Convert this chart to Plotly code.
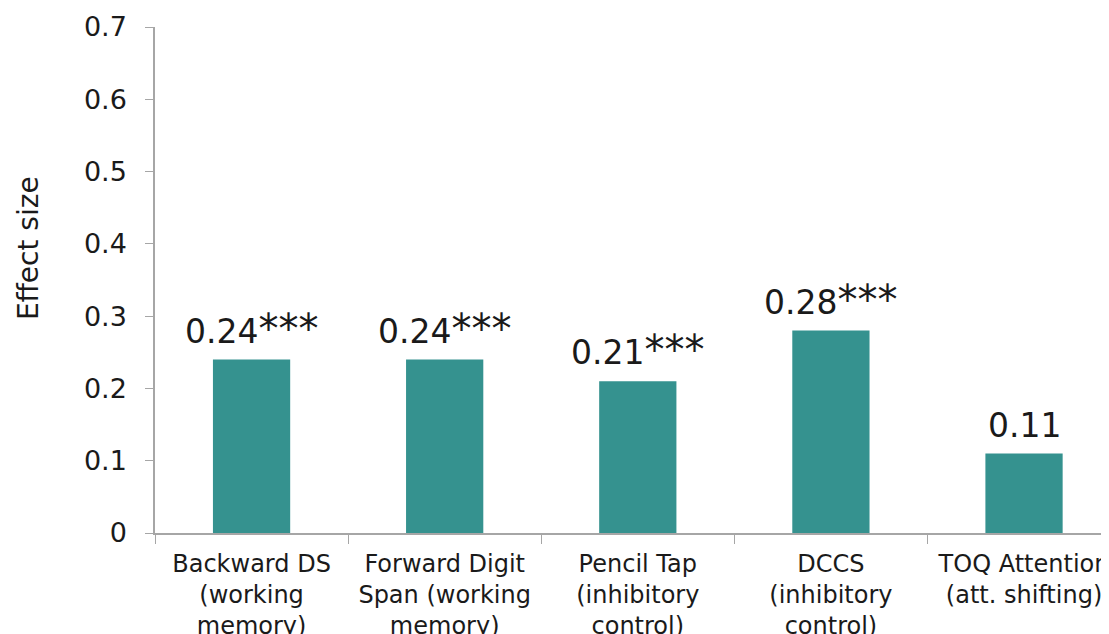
import plotly.graph_objects as go

categories = [
    "Backward DS<br>(working<br>memory)",
    "Forward Digit<br>Span (working<br>memory)",
    "Pencil Tap<br>(inhibitory<br>control)",
    "DCCS<br>(inhibitory<br>control)",
    "TOQ Attention<br>(att. shifting)",
]
effect_sizes = [0.24, 0.24, 0.21, 0.28, 0.11]
significance = ["***", "***", "***", "***", ""]
y_ticks = [0, 0.1, 0.2, 0.3, 0.4, 0.5, 0.6, 0.7]
y_tick_labels = ["0", "0.1", "0.2", "0.3", "0.4", "0.5", "0.6", "0.7"]

FONT = "DejaVu Sans"
BAR_COLOR = "#35928F"
AXIS_COLOR = "#A6A6A6"

fig = go.Figure()
fig.add_trace(go.Bar(
    x=categories,
    y=effect_sizes,
    width=0.40,
    marker=dict(color=BAR_COLOR, line=dict(width=0)),
    hoverinfo="skip",
))

for cat, val, sig in zip(categories, effect_sizes, significance):
    txt = f"{val:.2f}"
    if sig:
        txt += f"<span style='font-size:40px'>{sig}</span>"
    fig.add_annotation(
        x=cat, y=val, xref="x", yref="y",
        text=txt,
        showarrow=False, yanchor="bottom", yshift=6,
        font=dict(family=FONT, size=33, color="#1a1a1a"),
    )

fig.add_annotation(
    xref="paper", yref="paper",
    x=(28 - 155) / 954, y=0.563,
    text="Effect size", textangle=-90, showarrow=False,
    xanchor="center", yanchor="middle",
    font=dict(family=FONT, size=28, color="#1a1a1a"),
)

fig.update_layout(
    width=1101, height=626,
    margin=dict(l=147, r=0, t=19, b=101, autoexpand=False),
    paper_bgcolor="white", plot_bgcolor="white",
    showlegend=False,
    bargap=0.6,
    font=dict(family=FONT, color="#1a1a1a"),
)
fig.update_xaxes(
    type="category",
    range=[-0.5, 4.44],
    showline=True, linecolor=AXIS_COLOR, linewidth=1.5,
    ticks="outside", tickson="boundaries", ticklen=9, tickcolor=AXIS_COLOR,
    showgrid=False, zeroline=False,
    tickfont=dict(family=FONT, size=24, color="#1a1a1a"),
    ticklabelstandoff=8,
    automargin=False,
)
fig.update_yaxes(
    range=[0, 0.7],
    tickvals=y_ticks, ticktext=y_tick_labels,
    showline=True, linecolor=AXIS_COLOR, linewidth=1.5,
    ticks="outside", ticklen=8, tickcolor=AXIS_COLOR,
    showgrid=False, zeroline=False,
    tickfont=dict(family=FONT, size=27, color="#1a1a1a"),
    ticklabelstandoff=13,
    automargin=False,
)

fig.write_html("out.html")
